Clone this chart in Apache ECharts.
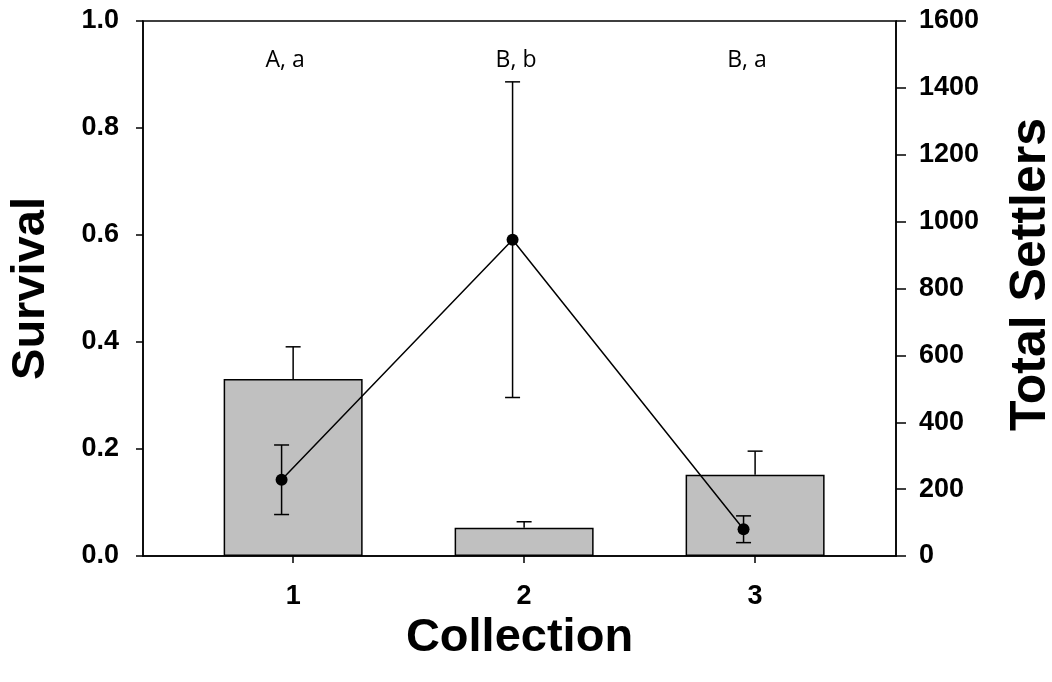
<!DOCTYPE html>
<html>
<head>
<meta charset="utf-8">
<script src="https://cdn.jsdelivr.net/npm/echarts@6/dist/echarts.min.js"></script>
<style>
html,body{margin:0;padding:0;background:#fff;}
#chart{width:1052px;height:682px;}
</style>
</head>
<body>
<div id="chart"></div>
<script>
// ---- data ----
const collections = [1, 2, 3];
const survival = [0.331, 0.053, 0.152];
const survivalErr = [0.060, 0.011, 0.044];
const settlerX = [0.95, 1.95, 2.95];
const settlers = [228, 946, 80];
const settlersErr = [104, 472, 40];
const letterX = [0.965, 1.965, 2.965];
const letterY = [0.927, 0.927, 0.927];
const letters = ['A, a', 'B, b', 'B, a'];

const FONT = 'Liberation Sans, Arial, sans-serif';

const chart = echarts.init(document.getElementById('chart'));

function errRender(xs, ys, es, upOnly) {
  return function (params, api) {
    const i = params.dataIndex;
    const x = xs[i], y = ys[i], e = es[i];
    const top = api.coord([x, y + e]);
    const bot = api.coord([x, upOnly ? y : y - e]);
    const half = 7.5;
    const style = { stroke: '#000', lineWidth: 1.5 };
    const children = [
      { type: 'line', shape: { x1: top[0], y1: top[1], x2: bot[0], y2: bot[1] }, style: style },
      { type: 'line', shape: { x1: top[0] - half, y1: top[1], x2: top[0] + half, y2: top[1] }, style: style }
    ];
    if (!upOnly) {
      children.push({ type: 'line', shape: { x1: bot[0] - half, y1: bot[1], x2: bot[0] + half, y2: bot[1] }, style: style });
    }
    return { type: 'group', children: children };
  };
}

const option = {
  backgroundColor: '#fff',
  animation: false,
  grid: { left: 143, right: 156, top: 21, bottom: 126, outerBoundsMode: 'none', containLabel: false, show: true, borderColor: '#000', borderWidth: 1.5, backgroundColor: 'transparent' },
  xAxis: {
    type: 'value',
    min: 0.35,
    max: 3.61,
    name: 'Collection',
    nameLocation: 'middle',
    nameGap: 54,
    nameTextStyle: { fontFamily: FONT, fontWeight: 'bold', fontSize: 47, color: '#000' },
    axisLine: { show: true, onZero: false, lineStyle: { color: '#000', width: 1.5 } },
    axisTick: { show: true, customValues: collections, length: 7, lineStyle: { color: '#000', width: 1.5 } },
    axisLabel: { customValues: collections, margin: 27, fontFamily: FONT, fontWeight: 'bold', fontSize: 27, color: '#000', formatter: v => String(v) },
    splitLine: { show: false }
  },
  yAxis: [
    {
      type: 'value', min: 0, max: 1.0, interval: 0.2,
      name: 'Survival',
      nameLocation: 'middle',
      nameRotate: 90,
      nameGap: 88,
      nameTextStyle: { fontFamily: FONT, fontWeight: 'bold', fontSize: 47, color: '#000' },
      axisLine: { show: true, lineStyle: { color: '#000', width: 1.5 } },
      axisTick: { show: true, length: 7, lineStyle: { color: '#000', width: 1.5 } },
      axisLabel: { margin: 24, fontFamily: FONT, fontWeight: 'bold', fontSize: 27, color: '#000', formatter: v => v.toFixed(1) },
      splitLine: { show: false }
    },
    {
      type: 'value', min: 0, max: 1600, interval: 200,
      name: 'Total Settlers',
      nameLocation: 'middle',
      nameRotate: 90,
      nameGap: 110,
      nameTextStyle: { fontFamily: FONT, fontWeight: 'bold', fontSize: 50, color: '#000', padding: [0, 0, 0, 28] },
      axisLine: { show: true, lineStyle: { color: '#000', width: 1.5 } },
      axisTick: { show: true, length: 10, lineStyle: { color: '#000', width: 1.5 } },
      axisLabel: { margin: 23, fontFamily: FONT, fontWeight: 'bold', fontSize: 27, color: '#000', formatter: v => String(v) },
      splitLine: { show: false }
    }
  ],
  series: [
    {
      type: 'bar',
      yAxisIndex: 0,
      barWidth: 139,
      data: collections.map((c, i) => [c, survival[i]]),
      itemStyle: { color: '#c0c0c0', borderColor: '#000', borderWidth: 1.5 },
      z: 2
    },
    {
      type: 'custom',
      yAxisIndex: 0,
      renderItem: errRender(collections, survival, survivalErr, true),
      data: collections.map((c, i) => [c, survival[i] + survivalErr[i]]),
      z: 3
    },
    {
      type: 'custom',
      yAxisIndex: 1,
      renderItem: errRender(settlerX, settlers, settlersErr, false),
      data: settlerX.map((x, i) => [x, settlers[i] + settlersErr[i], settlers[i] - settlersErr[i]]),
      z: 4
    },
    {
      type: 'line',
      yAxisIndex: 1,
      data: settlerX.map((x, i) => [x, settlers[i]]),
      symbol: 'circle',
      symbolSize: 12,
      lineStyle: { color: '#000', width: 1.5 },
      itemStyle: { color: '#000' },
      z: 5
    },
    {
      type: 'custom',
      yAxisIndex: 0,
      silent: true,
      data: letterX.map((x, i) => [x, letterY[i]]),
      renderItem: function (params, api) {
        const i = params.dataIndex;
        const p = api.coord([letterX[i], letterY[i]]);
        return {
          type: 'text',
          x: p[0], y: p[1],
          style: {
            text: letters[i],
            fill: '#000',
            fontFamily: 'Open Sans, sans-serif',
            fontSize: 23,
            align: 'center',
            verticalAlign: 'middle'
          }
        };
      },
      z: 6
    }
  ]
};
chart.setOption(option);
</script>
</body>
</html>
